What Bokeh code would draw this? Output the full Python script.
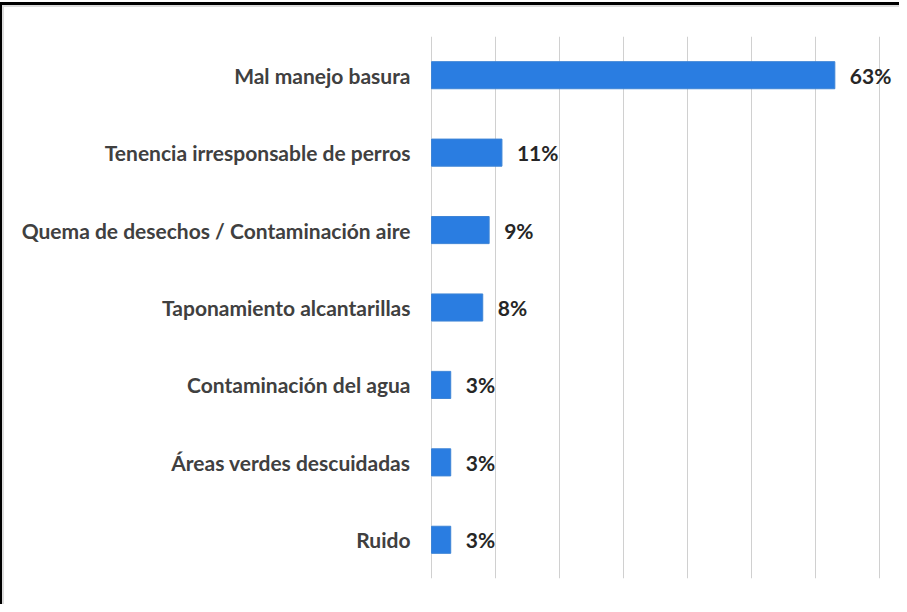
from bokeh.plotting import figure
from bokeh.models import ColumnDataSource, FactorRange, Range1d, FixedTicker, LabelSet
from bokeh.core.properties import value
from bokeh.embed import file_html
from bokeh.resources import INLINE

categories = ["Mal manejo basura", "Tenencia irresponsable de perros",
              "Quema de desechos / Contaminación aire", "Taponamiento alcantarillas",
              "Contaminación del agua", "Áreas verdes descuidadas", "Ruido"]
values = [63, 11, 9, 8, 3, 3, 3]
x_ticks = [0, 10, 20, 30, 40, 50, 60, 70]

labels = [f"{v}%" for v in values]
src = ColumnDataSource(dict(cat=categories, val=values, lab=labels))

# frame runs to the right canvas edge so the value labels are not clipped;
# gridlines stop at 70 %; a small negative start keeps the 0 line fully visible
p = figure(width=899, height=604, output_backend="svg", toolbar_location=None,
           y_range=FactorRange(factors=list(reversed(categories)), range_padding=0),
           x_range=Range1d(-0.16, 73.1),
           min_border_left=430, min_border_right=0, min_border_top=36, min_border_bottom=26)
p.styles = {"box-shadow": "inset 0 2px 0 0 #ffffff, inset 2px 5px 0 0 #000000, inset 4px 7px 0 0 #dcdcdc"}
p.outline_line_color = None
p.background_fill_color = None
p.border_fill_color = None

p.hbar(y="cat", right="val", left=0, height=0.35, source=src,
       fill_color="#2A7DE1", line_color="#3D84D6", line_width=1)

lbl = LabelSet(x="val", y="cat", text="lab", source=src, x_offset=15,
               text_baseline="middle", text_align="left",
               text_font=value("Lato"), text_font_style="bold", text_font_size="21px",
               text_color="#262626")
p.add_layout(lbl)

p.xaxis.visible = False
p.xaxis.ticker = FixedTicker(ticks=x_ticks)
p.xgrid.ticker = FixedTicker(ticks=x_ticks)
p.xgrid.grid_line_color = "#d0d0d0"
p.ygrid.grid_line_color = None

ya = p.yaxis[0]
ya.axis_line_color = None
ya.major_tick_line_color = None
ya.minor_tick_line_color = None
ya.major_tick_out = 0
ya.major_tick_in = 0
ya.major_label_standoff = 20
ya.major_label_text_font = "Lato"
ya.major_label_text_font_style = "bold"
ya.major_label_text_font_size = "21px"
ya.major_label_text_color = "#404040"

open("out.html", "w").write(file_html(p, INLINE))
